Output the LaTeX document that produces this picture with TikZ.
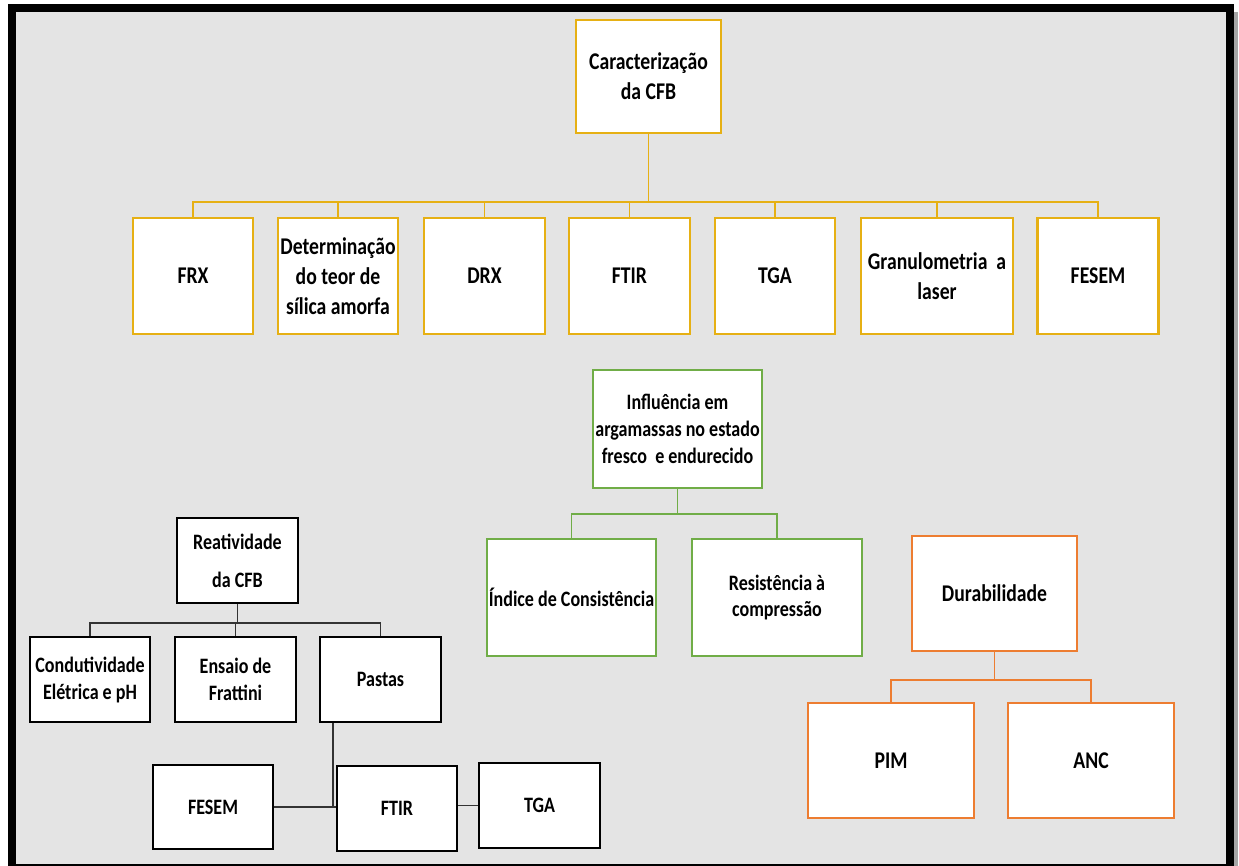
\documentclass[tikz,border=0pt]{standalone}
\usepackage{fontspec}
\setmainfont{Carlito}[FakeStretch=0.82]
\definecolor{bgc}{RGB}{228,228,228}
\definecolor{goldc}{RGB}{230,176,20}
\definecolor{greenc}{RGB}{112,173,71}
\definecolor{orangec}{RGB}{237,125,49}
\tikzset{
  box/.style={draw, fill=white, line width=2.6pt, align=center, inner sep=1pt,
    font=\bfseries\fontsize{24}{30}\selectfont},
  gbox/.style={box, draw=goldc},
  grbox/.style={box, draw=greenc},
  obox/.style={box, draw=orangec},
  kbox/.style={box, draw=black, line width=1.8pt, font=\bfseries\fontsize{22}{27}\selectfont},
  gline/.style={draw=goldc, line width=1.5pt},
  grline/.style={draw=greenc, line width=1.5pt},
  oline/.style={draw=orangec, line width=1.5pt},
  kline/.style={draw=black!80, line width=1.3pt},
}
\begin{document}
\begin{tikzpicture}[x=1pt,y=-1pt]
\useasboundingbox (0,0) rectangle (1239,866);
\fill[white] (0,0) rectangle (1239,866);
\fill[black!35] (1233,12) rectangle (1238,866);
\fill[bgc] (12,8) rectangle (1229,867);
\draw[line width=8pt] (12,8) -- (1229.5,8) -- (1229.5,868) -- (12,868) -- cycle;

% top group
\node[gbox, minimum width=145pt, minimum height=113pt] (car) at (648.5,76.5) {Caracterização\\da CFB};
\node[gbox, minimum width=120pt, minimum height=116pt] (frx) at (193,276) {FRX};
\node[gbox, minimum width=120pt, minimum height=116pt] (det) at (338,276) {Determinação\\do teor de\\sílica amorfa};
\node[gbox, minimum width=121pt, minimum height=116pt] (drx) at (484.5,276) {DRX};
\node[gbox, minimum width=121pt, minimum height=116pt] (ftir) at (629.5,276) {FTIR};
\node[gbox, minimum width=120pt, minimum height=116pt] (tga) at (775,276) {TGA};
\node[gbox, minimum width=152pt, minimum height=116pt] (gran) at (937,276) {Granulometria\ \ a\\laser};
\node[gbox, minimum width=121pt, minimum height=116pt] (fesem) at (1098,276) {FESEM};
\coordinate (bar1) at (649,202);
\foreach \n in {frx,det,drx,ftir,tga,gran,fesem}
  \draw[gline] (car.south) -- (car.south |- bar1) -| (\n.north);

% green group
\node[grbox, minimum width=169pt, minimum height=118pt, font=\bfseries\fontsize{22}{27}\selectfont] (inf) at (677.5,429) {Influência em\\argamassas no estado\\fresco\ \ e endurecido};
\node[grbox, minimum width=169pt, minimum height=117pt, font=\bfseries\fontsize{22}{27}\selectfont] (ind) at (571.5,597.5) {Índice de Consistência};
\node[grbox, minimum width=170pt, minimum height=117pt, font=\bfseries\fontsize{22}{26}\selectfont] (res) at (777,597.5) {Resistência à\\compressão};
\coordinate (bar2) at (677.5,514);
\foreach \n in {ind,res}
  \draw[grline] (inf.south) -- (inf.south |- bar2) -| (\n.north);

% orange group
\node[obox, minimum width=165pt, minimum height=115pt] (dur) at (994.5,593.5) {Durabilidade};
\node[obox, minimum width=166pt, minimum height=115pt] (pim) at (891,760.5) {PIM};
\node[obox, minimum width=166pt, minimum height=115pt] (anc) at (1091,760.5) {ANC};
\coordinate (bar3) at (994.5,680);
\foreach \n in {pim,anc}
  \draw[oline] (dur.south) -- (dur.south |- bar3) -| (\n.north);

% black group
\node[kbox, minimum width=121pt, minimum height=85pt] (rea) at (237.5,560.5) {Reatividade\\[11pt]da CFB};
\node[kbox, minimum width=120pt, minimum height=85pt] (con) at (90,679.5) {Condutividade\\Elétrica e pH};
\node[kbox, minimum width=121pt, minimum height=85pt] (ens) at (235.5,679.5) {Ensaio de\\Frattini};
\node[kbox, minimum width=121pt, minimum height=85pt] (pas) at (380.5,679.5) {Pastas};
\coordinate (bar4) at (237.5,623);
\foreach \n in {con,ens,pas}
  \draw[kline] (rea.south) -- (rea.south |- bar4) -| (\n.north);

\node[kbox, minimum width=120pt, minimum height=84pt] (fes2) at (213,807) {FESEM};
\node[kbox, minimum width=120pt, minimum height=85pt] (ftir2) at (397,808.5) {FTIR};
\node[kbox, minimum width=121pt, minimum height=85pt] (tga2) at (539.5,805.5) {TGA};
\coordinate (jn) at (333,807);
\draw[kline] (pas.south -| jn) -- (jn) -- (ftir2.west |- jn);
\draw[kline] (fes2.east) -- (jn);
\draw[kline] (ftir2.east |- tga2.west) -- (tga2.west);
\end{tikzpicture}
\end{document}
